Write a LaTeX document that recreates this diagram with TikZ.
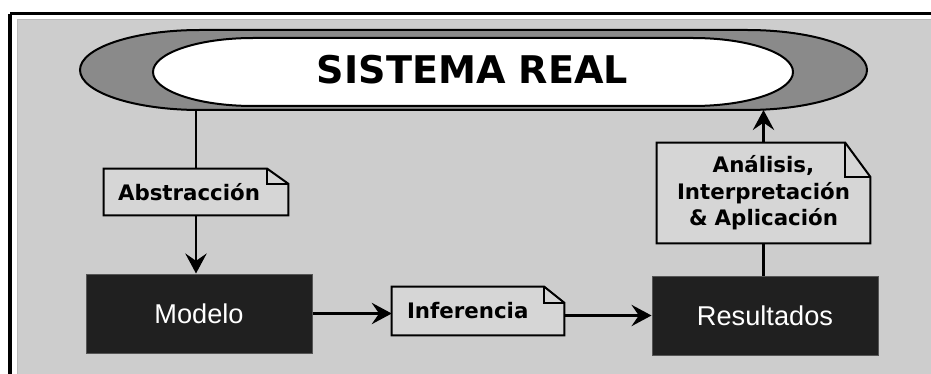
\documentclass[tikz,border=0pt]{standalone}
\usepackage{fontspec}
\newfontfamily\notefont{DejaVu Sans}
\newfontfamily\boxfont{Liberation Sans}
\usetikzlibrary{arrows.meta,calc}
\pgfdeclarelayer{back}
\pgfdeclarelayer{mid}
\pgfsetlayers{back,mid,main}
\definecolor{bggray}{HTML}{CDCDCD}
\definecolor{ringgray}{HTML}{8A8A8A}
\definecolor{notefill}{HTML}{D6D6D6}
\definecolor{boxdark}{HTML}{202020}
\definecolor{boxedge}{HTML}{555555}
\definecolor{edgegray}{HTML}{BBBBBB}
\tikzset{
  notetext/.style={font=\notefont\bfseries\fontsize{16}{19.9}\selectfont, inner ysep=0pt, text=black},
  noteline/.style={draw=black, fill=notefill, line width=1.5pt, line join=miter},
  darkbox/.style={fill=boxdark, draw=boxedge, line width=0.75pt, minimum width=169.5pt,
    minimum height=59.25pt, text=white, font=\boxfont\fontsize{20.4}{24}\selectfont},
  conn/.style={draw=black, line width=1.9pt},
  arr/.style={conn, -{Stealth[length=15pt, width=16pt, inset=5.5pt]}},
  ring/.style={fill=ringgray, draw=black, line width=1.5pt},
  inner ring/.style={fill=white, draw=black, line width=1.5pt}
}
\newcommand{\drawnote}[3]{%
  \begin{pgfonlayer}{mid}
    \path[noteline] (#1.north west) -- ($(#1.north east)+(-#2,0)$) -- ($(#1.north east)+(0,#3)$)
      -- (#1.south east) -- (#1.south west) -- cycle;
    \draw[noteline, fill=none] ($(#1.north east)+(-#2,0)$) -- ($(#1.north east)+(-#2,#3)$)
      -- ($(#1.north east)+(0,#3)$);
  \end{pgfonlayer}}
\begin{document}
\begin{tikzpicture}[x=0.75pt,y=-0.75pt]
\useasboundingbox (0,0) rectangle (931,374);
\clip (0,0) rectangle (931,374);
\begin{pgfonlayer}{back}
  \fill[white] (0,0) rectangle (931,374);
  \fill[bggray] (17,19) rectangle (1000,500);
  \draw[edgegray, line width=1.2pt] (17.5,19.5) -- (1000,19.5);
  \draw[edgegray, line width=1.2pt] (17.5,19.5) -- (17.5,500);
  \draw[black, line width=2.6pt] (10.2,13.6) -- (1000,13.6);
  \draw[black, line width=2.6pt] (10.2,13.6) -- (10.2,500);
\end{pgfonlayer}

% system capsule
\path[ring] (200,30) -- (747,30) arc[start angle=-90, end angle=90, x radius=120, y radius=40]
  -- (200,110) arc[start angle=90, end angle=270, x radius=120, y radius=40] -- cycle;
\path[inner ring] (253,38) -- (693,38) arc[start angle=-90, end angle=90, x radius=100, y radius=34]
  -- (253,106) arc[start angle=90, end angle=270, x radius=100, y radius=34] -- cycle;
\node[font=\notefont\bfseries\fontsize{28.6}{32}\selectfont, inner sep=0pt] (sys) at (472.5,70) {SISTEMA REAL};
\coordinate (sysL) at (196,110);
\coordinate (sysR) at (763.5,110);

% boxes
\node[darkbox] (modelo) at (199,313.5) {Modelo};
\node[darkbox] (result) at (765,315.5) {Resultados};

% notes
\node[notetext, minimum width=138pt, minimum height=34.5pt, inner xsep=10.5pt,
  text width=117pt, align=left] (abs) at (196,192) {Abstracción};
\node[notetext, minimum width=129pt, minimum height=36pt, inner xsep=11.25pt,
  text width=106.5pt, align=left] (inf) at (478,311) {Inferencia};
\node[notetext, minimum width=159.75pt, minimum height=75pt, inner xsep=0pt,
  text width=159.75pt, align=center] (ana) at (763.5,193) {Análisis,\\Interpretación\\\& Aplicación};
\drawnote{abs}{21}{15}
\drawnote{inf}{20}{16}
\drawnote{ana}{25}{34}

% connectors
\draw[conn] (sysL) -- (abs.north);
\draw[arr] (abs.south) -- (abs.south |- modelo.north);
\draw[arr] (modelo.east) -- (modelo.east -| inf.west);
\draw[arr] (inf.east |- result.west) -- (result.west);
\draw[conn] (result.north -| ana.south) -- (ana.south);
\draw[arr] (ana.north) -- (sysR);
\end{tikzpicture}
\end{document}
